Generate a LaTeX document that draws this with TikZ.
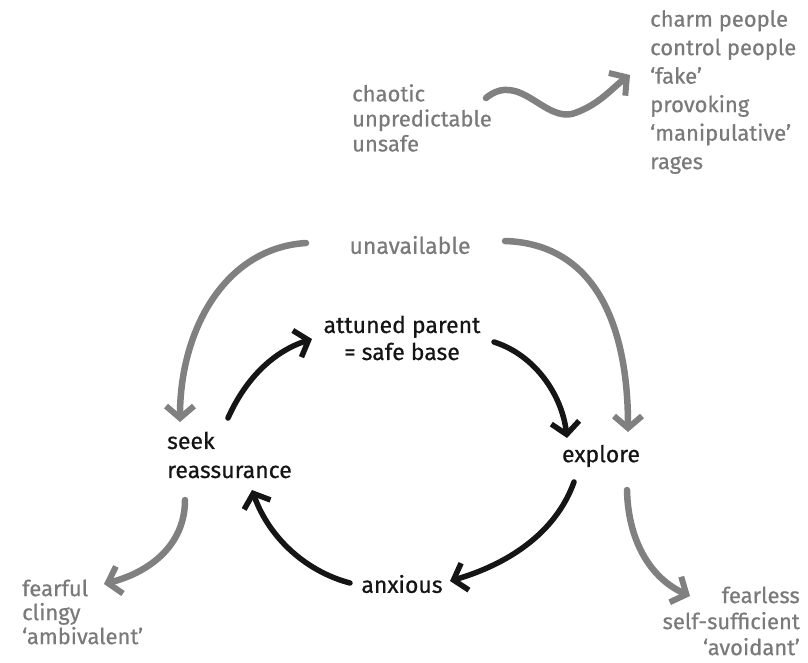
\documentclass[tikz,border=0pt]{standalone}
\usepackage{fontspec}
\setmainfont{Fira Sans}
\newfontfamily\hand{Fira Sans}[FakeBold=0.6,Ligatures=TeX]
\usetikzlibrary{arrows.meta}
\definecolor{txtgray}{HTML}{7A7A7A}
\definecolor{arrgray}{HTML}{808080}
\definecolor{ink}{HTML}{151515}
\tikzset{
  lab/.style={font=\hand\fontsize{23}{27}\selectfont, inner sep=0pt},
  graytext/.style={lab, text=txtgray},
  blacktext/.style={lab, text=ink},
  garr/.style={draw=arrgray, line width=6.5pt, line cap=round,
    -{Straight Barb[length=12pt,width=28pt,line width=6pt]}},
  barr/.style={draw=ink, line width=5.5pt, line cap=round,
    -{Straight Barb[length=12pt,width=28pt,line width=5.5pt]}}
}
\begin{document}
\begin{tikzpicture}[x=1pt,y=-1pt]
\useasboundingbox (0,0) rectangle (808,663);
% top group
\node[graytext, anchor=west, align=left, font=\hand\fontsize{22}{25}\selectfont] (chaos) at (352,118) {chaotic\\unpredictable\\unsafe};
\node[graytext, anchor=west, align=left, font=\hand\fontsize{22}{28.5}\selectfont] (charm) at (650,92)
  {charm people\\control people\\‘fake’\\provoking\\‘manipulative’\\rages};
\coordinate (w1) at (486,98);
\coordinate (w2) at (630,75);
\draw[garr] (w1) .. controls (520,70) and (545,124) .. (575,113) .. controls (600,104) and (612,88) .. (w2);

% cycle
\node[graytext] (unav) at (410,245) {unavailable};
\node[blacktext, align=center] (att) at (402,338) {attuned parent\\= safe base};
\node[blacktext, anchor=west, align=left, font=\hand\fontsize{23}{29}\selectfont] (seek) at (167,455) {seek\\reassurance};
\node[blacktext] (expl) at (601,456) {explore};
\node[blacktext] (anx) at (402,584) {anxious};
\node[graytext, anchor=west, align=left, font=\hand\fontsize{22}{24}\selectfont] (fearful) at (22,612) {fearful\\clingy\\‘ambivalent’};
\node[graytext, anchor=east, align=right, font=\hand\fontsize{22}{26}\selectfont] (fearless) at (800,621) {fearless\\self-sufficient\\‘avoidant’};

% gray arrows
\coordinate (u1) at (306,243);
\coordinate (u2) at (180,422);
\draw[garr] (u1) .. controls (225,248) and (180,330) .. (u2);
\coordinate (u3) at (505,241);
\coordinate (u4) at (628,432);
\draw[garr] (u3) .. controls (598,244) and (628,330) .. (u4);
\coordinate (s1) at (185,500);
\coordinate (s2) at (104,584);
\draw[garr] (s1) .. controls (185,545) and (150,572) .. (s2);
\coordinate (e1) at (627,490);
\coordinate (e2) at (690,596);
\draw[garr] (e1) .. controls (628,540) and (650,578) .. (e2);

% black cycle arrows
\coordinate (b1) at (228,418);
\coordinate (b2) at (312,339);
\draw[barr] (b1) .. controls (245,380) and (272,352) .. (b2);
\coordinate (b3) at (494,342);
\coordinate (b4) at (567,438);
\draw[barr] (b3) .. controls (535,355) and (562,395) .. (b4);
\coordinate (b5) at (574,482);
\coordinate (b6) at (450,581);
\draw[barr] (b5) .. controls (555,535) and (505,565) .. (b6);
\coordinate (b7) at (350,583);
\coordinate (b8) at (252,490);
\draw[barr] (b7) .. controls (308,572) and (270,540) .. (b8);
\end{tikzpicture}
\end{document}
